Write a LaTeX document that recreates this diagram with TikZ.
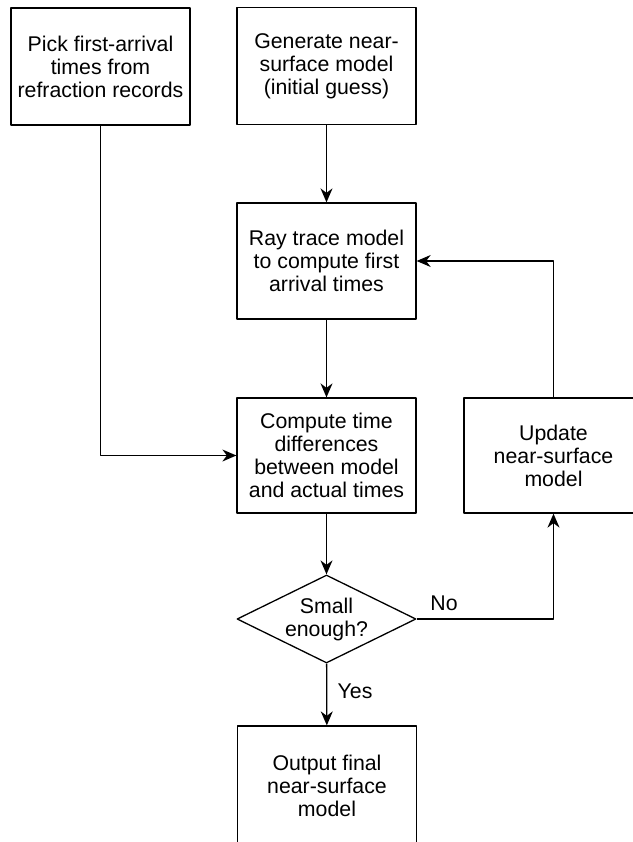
\documentclass[tikz,border=0pt]{standalone}
\usepackage{fontspec}
\setmainfont{Liberation Sans}
\usetikzlibrary{arrows.meta,shapes.geometric}

\begin{document}
\begin{tikzpicture}[x=1pt, y=-1pt, line join=round,
		font=\fontsize{21.3}{23}\selectfont,
		flow/.style={line width=1.3pt, -{Stealth[length=14pt,width=12pt,inset=4.5pt]}},
		stepbox/.style={draw, line width=1.3pt, align=center, inner sep=0pt, minimum width=179pt, minimum height=117pt},
		decision/.style={draw, diamond, line width=1.3pt, align=center, inner sep=0pt, aspect=2, minimum width=179pt, minimum height=88pt}]
	\useasboundingbox (0,0) rectangle (632,842);
	% --- Hộp trên cùng ---
	\node[stepbox] (pick) at (100.5,66.5) {Pick first-arrival\\times from\\refraction records};
	\node[stepbox] (guess) at (326.5,66) {Generate near-\\surface model\\(initial guess)};
	% --- Cột giữa ---
	\node[stepbox, minimum height=116pt] (raytrace) at (326.5,261) {Ray trace model\\to compute first\\arrival times};
	\node[stepbox, minimum height=115pt] (diff) at (326.5,455.5) {Compute time\\differences\\between model\\and actual times};
	\node[stepbox, minimum height=115pt] (update) at (553.5,455.5) {Update\\near-surface\\model};
	\node[decision] (small) at (326.5,619) {Small\\enough?};
	\node[stepbox, minimum height=120pt] (final) at (327,786) {Output final\\near-surface\\model};
	% --- Mũi tên ---
	\draw[flow] (guess) -- (raytrace);
	\draw[flow] (raytrace) -- (diff);
	\draw[flow] (diff) -- (small);
	\draw[flow] (pick) |- (diff);
	\draw[flow] (update) |- (raytrace);
	\draw[flow] (small) -| node[pos=0.1, above=4pt] {No} (update);
	\draw[flow] (small) -- node[pos=0.45, right=7pt] {Yes} (final);
\end{tikzpicture}
\end{document}
